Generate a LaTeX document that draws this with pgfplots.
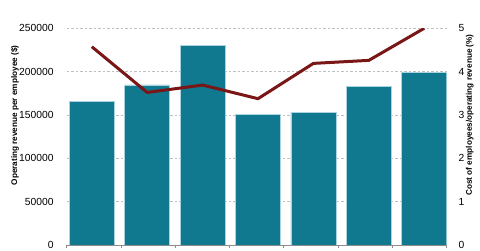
\documentclass[border=0pt]{standalone}
\usepackage{pgfplots}
\pgfplotsset{compat=1.18}
\usepackage{fontspec}
\setmainfont{Liberation Sans}
\definecolor{barc}{HTML}{10788F}
\definecolor{barb}{HTML}{A9D3DF}
\definecolor{linec}{HTML}{7B1616}
\definecolor{gridc}{HTML}{BFBFBF}
\definecolor{axc}{HTML}{8C8C8C}
\begin{document}
\begin{tikzpicture}[x=1pt,y=1pt]
\path[use as bounding box] (0,0) rectangle (480,251);
\begin{axis}[
  at={(66.7pt,6pt)}, anchor=south west,
  scale only axis, width=380pt, height=216.7pt,
  xmin=0.547, xmax=7.406, ymin=0, ymax=250000,
  enlargelimits=false,
  axis x line*=bottom, axis y line*=left,
  y axis line style={draw=none},
  x axis line style={draw=axc, line width=0.9pt},
  xtick={0.547,1.527,2.507,3.487,4.467,5.446,6.426,7.406},
  xticklabels={},
  xtick style={draw=axc, line width=0.9pt},
  tick align=outside, major tick length=3.5pt,
  ytick={0,50000,100000,150000,200000,250000},
  ytick style={draw=none},
  ymajorgrids, grid style={draw=gridc, line width=0.8pt, dash pattern=on 2.5pt off 2pt},
  scaled y ticks=false,
  yticklabel={\pgfmathprintnumber[fixed,precision=0,1000 sep={},assume math mode=true]{\tick}},
  yticklabel style={font=\fontsize{10.3}{12}\selectfont, inner sep=0pt, anchor=east, xshift=-9.4pt},
  ylabel={Operating revenue per employee (\$)},
  ylabel style={font=\fontsize{8.2}{10}\selectfont\bfseries, at={(axis description cs:-0.136,0.598)}, anchor=center},
]
\addplot[ybar, bar width=0.812, fill=barc, draw=barb, line width=0.6pt] coordinates {
(1,165300) (2,184600) (3,230700) (4,150300) (5,152600) (6,182600) (7,198800)};
\end{axis}
\begin{axis}[
  at={(66.7pt,6pt)}, anchor=south west,
  scale only axis, width=380pt, height=216.7pt,
  xmin=0.547, xmax=7.406, ymin=0, ymax=5,
  enlargelimits=false,
  axis x line=none,
  axis y line*=right,
  y axis line style={draw=none},
  ytick={0,1,2,3,4,5},
  ytick style={draw=none},
  yticklabel={\pgfmathprintnumber[fixed,precision=0,assume math mode=true]{\tick}},
  yticklabel style={font=\fontsize{10.3}{12}\selectfont, inner sep=0pt, anchor=west, xshift=11.7pt},
  ylabel={Cost of employees/operating revenue (\%)},
  ylabel style={font=\fontsize{8.2}{10}\selectfont\bfseries, at={(axis description cs:1.061,0.6)}, anchor=center, rotate=0},
]
\addplot[linec, line width=3pt, line join=round] coordinates {
(1,4.575) (2,3.52) (3,3.69) (4,3.376) (5,4.19) (6,4.26) (7,5.0)};
\end{axis}
\end{tikzpicture}
\end{document}
